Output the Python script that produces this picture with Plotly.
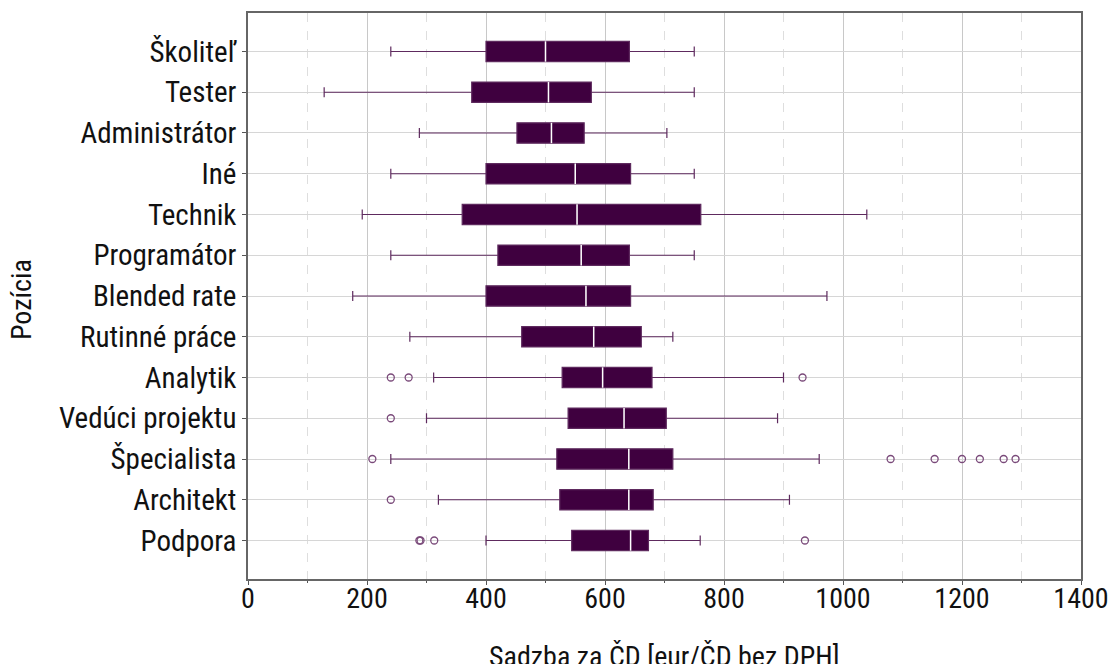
import plotly.graph_objects as go

categories = ["Školiteľ", "Tester", "Administrátor", "Iné", "Technik", "Programátor",
              "Blended rate", "Rutinné práce", "Analytik", "Vedúci projektu",
              "Špecialista", "Architekt", "Podpora"]
lower = [240, 128, 288, 240, 192, 240, 176, 272, 312, 300, 240, 320, 400]
q1 = [400, 376, 452, 400, 360, 420, 400, 460, 528, 538, 519, 524, 544]
median = [500, 505, 510, 550, 553, 560, 568, 581, 596, 632, 640, 640, 643]
q3 = [641, 577, 565, 643, 761, 641, 643, 661, 679, 703, 714, 681, 673]
upper = [750, 750, 704, 750, 1040, 750, 973, 714, 900, 890, 960, 910, 760]

outlier_cat = ["Analytik", "Analytik", "Analytik",
               "Vedúci projektu",
               "Špecialista", "Špecialista", "Špecialista", "Špecialista",
               "Špecialista", "Špecialista", "Špecialista",
               "Architekt",
               "Podpora", "Podpora", "Podpora", "Podpora"]
outlier_val = [240, 270, 932,
               240,
               209, 1080, 1154, 1200, 1230, 1270, 1290,
               240,
               288, 290, 313, 936]

FONT = "Roboto Condensed, DejaVu Sans, sans-serif"
FILL = "#3f003f"
LINE = "#5e2a5e"

fig = go.Figure()
fig.add_trace(go.Box(
    y=categories, q1=q1, median=median, q3=q3,
    lowerfence=lower, upperfence=upper,
    orientation="h", fillcolor=FILL,
    line=dict(color=LINE, width=1.2),
    whiskerwidth=0.5, width=0.5, boxpoints=False,
    hoverinfo="skip", showlegend=False,
))
fig.add_trace(go.Scatter(
    x=outlier_val, y=outlier_cat, mode="markers",
    marker=dict(symbol="circle-open", size=7, color="#7a4a7a", line=dict(width=1.3)),
    showlegend=False, hoverinfo="skip",
))

for i, m in enumerate(median):
    fig.add_shape(type="line", xref="x", yref="y",
                  x0=m, x1=m, y0=i - 0.25, y1=i + 0.25,
                  line=dict(color="white", width=1.5), layer="above")

fig.update_layout(
    width=1112, height=656,
    margin=dict(l=240, r=39, t=5, b=85),
    paper_bgcolor="white", plot_bgcolor="white",
    font=dict(family=FONT, size=28, color="#111111"),
)
fig.update_xaxes(
    range=[0, 1400], dtick=200, tick0=0, automargin=False,
    showgrid=True, gridcolor="#c8c8c8", gridwidth=1,
    minor=dict(dtick=100, showgrid=True, gridcolor="#dedede", griddash="dash",
               ticks="outside", ticklen=2, tickcolor="#555"),
    ticks="outside", ticklen=4, tickcolor="#555",
    showline=True, linecolor="#666666", linewidth=1.5, mirror=True,
    zeroline=False, tickfont=dict(size=28),
)
try:
    fig.update_xaxes(ticklabelstandoff=-10)
except Exception:
    pass
fig.update_yaxes(
    type="category", categoryorder="array", categoryarray=categories,
    autorange="reversed", automargin=False,
    showgrid=True, gridcolor="#d6d6d6", gridwidth=1,
    ticks="outside", ticklen=4, tickcolor="#555",
    showline=True, linecolor="#666666", linewidth=1.5, mirror=True,
    zeroline=False, tickfont=dict(size=29),
)
fig.add_annotation(xref="paper", yref="paper", x=0.5, y=-0.137, yanchor="middle",
                   text="Sadzba za ČD [eur/ČD bez DPH]", showarrow=False, font=dict(size=28))
fig.add_annotation(xref="paper", yref="paper", x=-0.2713, y=0.493, textangle=-90,
                   xanchor="center", yanchor="middle",
                   text="Pozícia", showarrow=False, font=dict(size=28))

fig.write_html("out.html")
